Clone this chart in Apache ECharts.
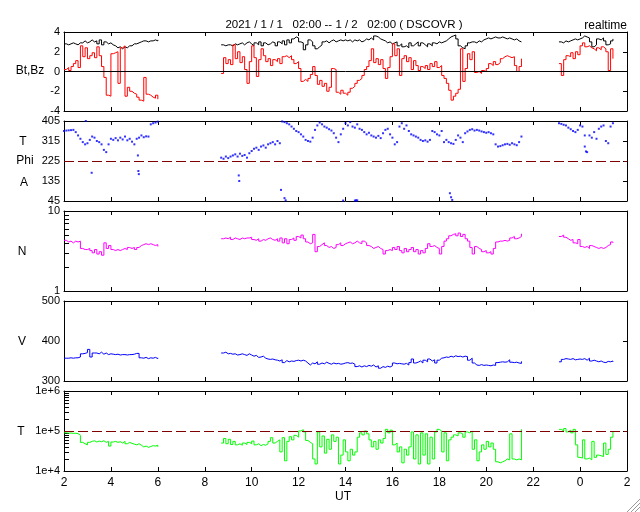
<!DOCTYPE html>
<html><head><meta charset="utf-8">
<script src="https://cdn.jsdelivr.net/npm/echarts@6/dist/echarts.min.js"></script>
<style>html,body{margin:0;padding:0;background:#fff}#c{width:640px;height:512px}</style>
</head><body><div id="c"></div>
<script>
// ---- time sampling of the three data segments (hours UT, 24+ = next day) ----
const SEG_START = [2.0, 8.7, 23.1];
const STEP_H = 0.1;
const X_MIN = 2, X_MAX = 26;
const hourLabels = ['2','4','6','8','10','12','14','16','18','20','22','0','2'];

// ---- Bt (black) and Bz (red), nT ----
const bt1 = [2.8,2.7,2.8,2.9,2.8,2.7,2.9,2.9,3.1,2.9,3.0,3.2,3.0,3.1,2.8,3.2,2.7,3.0,2.8,2.9,2.7,2.6,2.4,2.5,2.3,2.5,2.4,2.6,2.6,2.8,2.8,2.9,3.0,3.1,3.1,3.0,3.1,3.1,3.2,3.1,3.2];
const bt2 = [2.7,2.6,2.7,
2.7,2.6,2.8,2.7,2.8,2.9,2.7,2.9,3.0,2.8,
2.6,2.9,2.7,3.0,2.6,2.9,2.7,2.8,3.0,2.9,
2.6,3.0,2.8,3.1,2.7,3.2,2.9,3.3,3.5,3.4,
3.0,2.9,2.2,2.7,3.2,3.0,2.6,2.3,2.5,2.7,
3.0,3.1,2.9,3.1,3.2,3.0,3.1,3.2,3.1,3.2,
3.1,3.2,3.0,3.2,3.1,3.2,3.0,3.1,3.3,3.2,
3.4,3.2,3.6,3.5,3.3,3.2,3.1,2.9,3.0,2.8,
2.9,3.0,2.6,2.8,2.5,2.6,2.4,2.9,2.6,2.8,
3.0,2.6,2.9,2.7,2.5,2.8,2.6,2.9,2.8,3.0,
2.9,3.0,3.1,3.3,3.5,3.6,3.7,3.3,2.6,2.4,
2.3,2.6,2.9,3.0,3.0,2.9,3.1,3.0,3.2,3.3,
3.4,3.3,3.4,3.5,3.4,3.4,3.5,3.4,3.3,3.4,
3.3,3.2,3.3,3.1,3.0,3.0];
const bt3 = [3.0,2.9,3.1,3.0,3.1,3.2,3.3,3.2,3.3,3.4,3.6,3.5,3.4,3.0,2.5,2.7,3.3,3.2,3.4,3.1,2.7,2.8,3.1,3.3];

const bz1 = [0.2,0.4,0.1,0.5,0.8,1.1,0.4,2.6,1.5,2.4,1.3,1.6,1.9,1.4,2.5,1.6,0.5,-0.6,-2.4,-2.5,1.8,1.9,2.0,-1.2,2.4,2.6,-2.5,-1.6,-2.0,-2.2,-2.3,-2.6,-2.9,-3.0,-0.6,-2.3,-2.4,-2.6,-2.7,-2.4,-2.8];
const bz2 = [-0.2,1.4,0.8,
1.2,0.7,2.7,1.3,2.0,0.9,1.5,0.2,-1.2,1.0,
2.6,1.4,-0.5,1.2,2.3,1.6,1.0,1.3,0.6,1.2,
1.0,1.3,0.8,1.5,1.6,1.4,1.6,1.2,0.8,1.0,
0.3,-1.0,-0.8,-1.0,-0.7,-0.3,0.5,-0.4,-1.3,-0.9,
-1.5,-1.2,-2.0,-1.6,0.3,0.2,-2.1,-2.3,-1.9,-2.2,
-2.4,-2.1,-1.7,-1.5,-1.2,-0.9,-0.7,-0.4,0.2,0.5,
1.1,2.3,0.9,1.3,0.7,1.2,0.3,-0.7,0.4,1.5,
2.8,1.6,2.3,-0.4,1.3,1.6,1.0,1.4,0.2,1.1,
0.6,0.1,0.5,0.3,0.6,0.2,0.8,0.5,1.0,0.4,
0.6,-0.4,-0.7,-1.2,-1.9,-2.9,-2.5,-2.2,-1.8,2.3,
-1.0,0.3,1.8,1.2,2.0,-0.1,0.0,-0.2,0.1,0.0,
0.3,0.8,0.6,1.0,0.7,0.9,1.3,1.5,1.6,1.5,
1.4,1.5,0.6,0.0,0.5,1.3];
const bz3 = [0.8,-0.4,1.2,1.6,1.5,1.9,1.3,2.0,1.7,2.6,2.9,2.5,2.6,2.4,2.3,2.1,2.4,2.2,2.5,2.3,2.0,0.1,2.3,1.3];

// ---- Phi angle, deg ----
const phi1 = [360,362,363,364,365,355,340,325,310,300,305,320,335,330,315,310,300,275,265,300,325,320,328,318,330,322,335,318,325,312,300,325,330,340,332,336,335,390,395,398,402];
const phi2 = [240,235,245,
238,245,250,255,245,258,248,252,240,260,
270,280,285,275,290,295,285,300,305,310,
300,315,305,403,400,395,390,380,370,360,
355,345,335,320,315,312,330,365,385,398,
390,380,375,368,362,350,330,310,345,370,
395,385,400,380,375,390,370,365,355,345,
352,340,335,330,338,328,350,365,370,345,
330,300,310,380,395,370,385,360,345,340,
335,330,320,315,318,312,320,360,355,345,
340,360,310,320,310,305,302,320,340,330,
310,350,358,365,368,362,365,362,358,355,
352,355,350,345,300,290,292,296,300,302,
298,305,300,296,310,335];
const phi3 = [395,392,388,385,375,368,360,355,365,385,380,340,265,340,330,355,325,370,380,385,315,305,380,395];
const phiOutHours = [2.93,3.18,5.15,5.17,5.19,9.45,9.47,11.25,11.4,11.45,13.9,14.4,14.45,14.5,18.45,18.5,18.55,24.2,24.25];
const phiOutValues = [405,172,250,180,166,160,135,95,58,48,47,47,48,48,80,62,50,290,268];

// ---- N density, /cc ----
const n1 = [4.3,4.1,4.2,4.0,4.2,4.1,4.2,3.4,3.3,3.3,3.4,3.2,3.0,3.3,2.9,3.1,2.8,4.0,3.4,3.7,3.3,3.2,3.3,3.2,3.3,3.4,3.3,3.5,3.4,3.5,3.3,3.5,3.7,3.8,3.9,3.8,3.9,3.8,3.7,3.8,3.6];
const n2 = [4.5,4.6,4.5,
4.7,4.4,4.6,4.5,4.4,4.6,4.5,4.6,4.6,4.7,
4.4,4.3,4.5,4.2,4.4,4.3,4.5,4.6,4.4,4.3,
4.5,4.2,4.6,4.0,4.5,3.9,4.4,4.6,4.3,4.8,
4.6,5.0,4.5,4.1,3.9,4.0,5.1,3.1,3.6,3.8,
4.0,3.7,3.5,3.6,3.4,3.5,3.8,4.0,3.7,3.9,
4.0,4.1,3.9,4.0,4.2,4.0,3.9,4.2,4.0,3.7,
3.6,3.4,3.5,3.6,3.4,3.3,2.9,3.2,3.3,3.2,
3.5,3.3,3.6,3.2,3.0,3.4,3.1,3.3,3.5,3.1,
3.3,2.9,3.2,3.0,3.4,3.9,3.6,3.7,3.5,3.4,
2.9,3.6,4.2,4.5,4.9,5.1,5.2,4.9,5.3,4.8,
5.1,4.5,4.2,3.5,2.9,3.6,3.4,3.3,3.1,3.2,
3.0,3.1,2.9,3.4,4.1,4.2,4.2,4.3,4.2,4.3,
4.6,4.8,4.5,4.6,4.8,5.2];
const n3 = [4.8,5.0,4.7,4.5,4.3,4.4,4.0,3.9,4.4,3.6,3.5,3.6,3.4,3.7,3.6,3.5,3.4,3.5,3.4,3.5,3.7,3.8,4.1,4.0];

// ---- V speed, km/s ----
const v1 = [357,357,358,357,358,358,360,368,369,371,379,360,370,370,368,372,367,370,366,368,367,366,367,365,366,366,365,366,366,367,369,369,358,357,359,356,358,357,359,356,358];
const v2 = [370,372,368,
369,367,368,365,366,368,366,364,368,365,
362,364,359,360,362,357,355,354,355,353,
352,350,353,346,351,348,350,349,351,352,
350,352,350,345,340,345,343,348,342,345,
343,347,344,342,345,343,344,342,343,345,
346,344,345,342,336,338,335,338,336,339,
337,340,335,338,332,336,334,337,335,338,
345,343,344,343,342,344,340,346,355,345,
347,350,345,352,348,355,350,353,345,352,
357,358,360,359,362,360,363,361,362,360,
362,361,352,357,345,340,339,341,339,340,
339,338,340,339,346,347,348,347,348,353,
347,346,347,345,344,349];
const v3 = [348,354,356,355,354,356,353,354,355,354,356,352,357,350,352,350,348,350,347,346,349,348,350,348];

// ---- T temperature, K ----
const tp1 = [90000,88000,89000,87000,88000,86000,78000,52000,48000,45000,52000,55000,57000,53000,56000,54000,57000,52000,55000,42000,53000,55000,52000,54000,50000,55000,48000,52000,49000,47000,45000,48000,44000,40000,42000,39000,41000,43000,42000,44000,40000];
const tp2 = [50000,65000,48000,
62000,46000,55000,45000,48000,44000,50000,46000,52000,48000,
56000,45000,48000,43000,46000,44000,48000,55000,68000,50000,
55000,60000,30000,68000,18000,55000,72000,60000,78000,70000,
100000,108000,95000,58000,52000,48000,20000,15000,95000,40000,
75000,28000,62000,35000,80000,55000,70000,15000,25000,60000,
30000,18000,35000,25000,30000,70000,90000,80000,100000,85000,
60000,40000,55000,35000,60000,50000,65000,110000,90000,105000,
45000,50000,30000,40000,16000,35000,25000,40000,95000,20000,
80000,15000,90000,25000,85000,15000,70000,20000,95000,110000,
100000,30000,90000,18000,60000,70000,80000,75000,90000,85000,
70000,95000,90000,100000,35000,60000,18000,30000,45000,35000,
55000,40000,50000,35000,17000,16000,17000,18000,20000,19000,
85000,20000,19000,20000,19000,110000];
const tp3 = [110000,100000,115000,95000,105000,90000,110000,45000,22000,21000,60000,20000,21000,19000,55000,22000,25000,24000,23000,50000,26000,35000,70000,95000];

// reference lines & minor log ticks
const bzZero = 0, phiRef = 225, tpRef = 100000;
const nMinor = [2,3,4,5,6,7,8,9];
const tpMinor = [20000,30000,40000,50000,60000,70000,80000,90000,200000,300000,400000,500000,600000,700000,800000,900000];

const FONT = "'Liberation Sans', Arial, Helvetica, sans-serif";

function seg(k, vals) {
  return vals.map((v, i) => [+(SEG_START[k] + i * STEP_H).toFixed(2), v]);
}

const grids = [
  {left:64, top:32, width:563, height:79},
  {left:64, top:121, width:563, height:80},
  {left:64, top:211, width:563, height:80},
  {left:64, top:301, width:563, height:80},
  {left:64, top:391, width:563, height:80}
];

const xAxes = [];
grids.forEach((g, i) => {
  [false, true].forEach(top => {
    xAxes.push({
      type:'value', gridIndex:i, min:X_MIN, max:X_MAX, interval:2, position: top ? 'top' : 'bottom',
      axisLine:{show:true, onZero:false, lineStyle:{color:'#000', width:1}},
      axisTick:{show:true, inside:true, length:4, lineStyle:{color:'#000', width:1}},
      axisLabel:{show: !top && i === 4, margin:6, color:'#000', fontSize:12, fontFamily:FONT,
        formatter: v => hourLabels[Math.round((v - X_MIN) / 2)]},
      splitLine:{show:false}
    });
  });
});

const yCfg = [
  {type:'value', min:-4, max:4, interval:2, rightTicks:true},
  {type:'value', min:45, max:405, interval:90, rightTicks:true},
  {type:'log', min:1, max:10, logBase:10, rightTicks:false},
  {type:'value', min:300, max:500, interval:100, rightTicks:true},
  {type:'log', min:10000, max:1000000, logBase:10, rightTicks:true,
    fmt: v => '1e+' + Math.round(Math.log10(v))}
];
const yAxes = [];
yCfg.forEach((c, i) => {
  [false, true].forEach(right => {
    const ax = {
      type:c.type, gridIndex:i, min:c.min, max:c.max, position: right ? 'right' : 'left',
      axisLine:{show:true, onZero:false, lineStyle:{color:'#000', width:1}},
      axisTick:{show: right && c.rightTicks, inside:true, length:4, lineStyle:{color:'#000', width:1}},
      axisLabel:{show: !right, margin:4, color:'#000', fontSize:11, fontFamily:FONT},
      splitLine:{show:false}
    };
    if (c.interval) ax.interval = c.interval;
    if (c.logBase) ax.logBase = c.logBase;
    if (c.fmt) ax.axisLabel.formatter = c.fmt;
    yAxes.push(ax);
  });
});

function lineSeries(i, segs, color, markLine) {
  return segs.map((vals, k) => {
    const s = {
      type:'line', xAxisIndex:2*i, yAxisIndex:2*i, data: seg(k, vals), step:'end',
      showSymbol:false, symbol:'none', animation:false, silent:true,
      lineStyle:{color:color, width:1}, itemStyle:{color:color}
    };
    if (markLine && k === 0) s.markLine = markLine;
    return s;
  });
}
function refLine(val, color, dashed) {
  return {silent:true, symbol:'none', animation:false, label:{show:false},
    lineStyle:{color:color, width:1, type: dashed ? [10,4] : 'solid'}, data:[{yAxis:val}]};
}
function minorTicks(i, vals) {
  return {
    type:'custom', xAxisIndex:2*i, yAxisIndex:2*i, animation:false, silent:true,
    data: vals.map(v => [X_MIN, v]),
    renderItem: (params, api) => {
      const p = api.coord([api.value(0), api.value(1)]);
      const y = Math.round(p[1]) + 0.5;
      return {type:'line', shape:{x1:p[0], y1:y, x2:p[0] + 5, y2:y}, style:{stroke:'#000', lineWidth:1}};
    }
  };
}

const phiPts = [].concat(seg(0, phi1), seg(1, phi2), seg(2, phi3), phiOutHours.map((h, k) => [h, phiOutValues[k]]));

const series = [].concat(
  lineSeries(0, [bt1, bt2, bt3], '#000000', refLine(bzZero, '#000000', false)),
  lineSeries(0, [bz1, bz2, bz3], '#ff0000'),
  [{type:'scatter', xAxisIndex:2, yAxisIndex:2, data: phiPts,
    symbol:'rect', symbolSize:2, itemStyle:{color:'#0000ff'}, animation:false, silent:true,
    markLine: refLine(phiRef, '#800000', true)}],
  lineSeries(2, [n1, n2, n3], '#ff00ff'),
  [minorTicks(2, nMinor)],
  lineSeries(3, [v1, v2, v3], '#0000ff'),
  lineSeries(4, [tp1, tp2, tp3], '#00ff00', refLine(tpRef, '#800000', true)),
  [minorTicks(4, tpMinor)]
);

const txt = (t, x, y, align, size) => ({type:'text', silent:true,
  style:{text:t, x:x, y:y, align:align || 'center', verticalAlign:'middle', font: (size || 12) + 'px ' + FONT, fill:'#000'}});

const graphic = [
  txt('2021 / 1 / 1   02:00 -- 1 / 2   02:00 ( DSCOVR )', 344, 25, 'center', 11.5),
  txt('realtime', 627, 26, 'right', 12),
  txt('Bt,Bz', 30, 71, 'center', 12),
  txt('T', 23, 142, 'center', 12),
  txt('Phi', 25, 161, 'center', 12),
  txt('A', 24, 183, 'center', 12),
  txt('N', 22, 252, 'center', 12),
  txt('V', 22, 342, 'center', 12),
  txt('T', 21, 432, 'center', 12),
  txt('UT', 343, 497, 'center', 12),
  {type:'line', silent:true, shape:{x1:627, y1:512, x2:640, y2:499}, style:{stroke:'#999', lineWidth:1}},
  {type:'line', silent:true, shape:{x1:631, y1:512, x2:640, y2:503}, style:{stroke:'#999', lineWidth:1}},
  {type:'line', silent:true, shape:{x1:635, y1:512, x2:640, y2:507}, style:{stroke:'#999', lineWidth:1}}
];

const chart = echarts.init(document.getElementById('c'), null, {renderer:'canvas'});
chart.setOption({
  animation:false, backgroundColor:'#ffffff',
  grid: grids, xAxis: xAxes, yAxis: yAxes, series: series, graphic: graphic
});
</script>
</body></html>
